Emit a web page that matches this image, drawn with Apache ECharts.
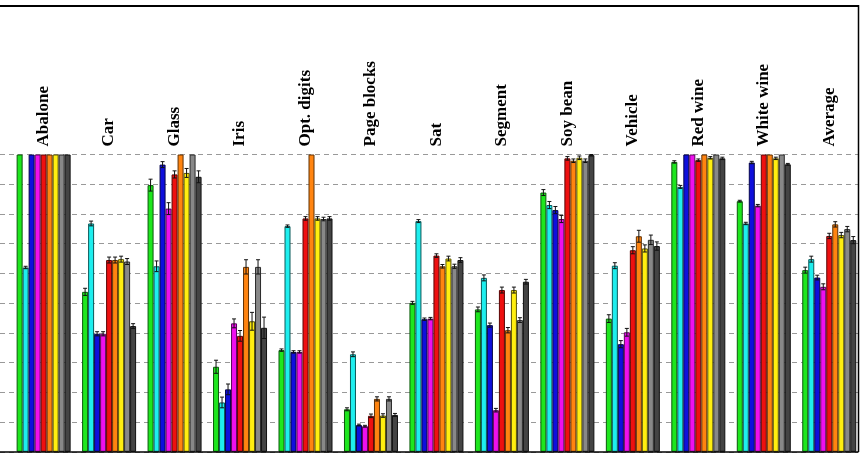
<!DOCTYPE html>
<html>
<head>
<meta charset="utf-8">
<script src="https://cdn.jsdelivr.net/npm/echarts@6/dist/echarts.min.js"></script>
<style>html,body{margin:0;padding:0;background:#fff;}#c{width:862px;height:470px;}</style>
</head>
<body>
<div id="c"></div>
<script>
const categories = ['Abalone','Car','Glass','Iris','Opt. digits','Page blocks','Sat','Segment','Soy bean','Vehicle','Red wine','White wine','Average'];
const seriesColors = ['#1ee61e','#1eeeee','#0f0fdc','#ee10ee','#ee1010','#ff8410','#ffee10','#888888','#444444'];
const borderColors = ['#0a5a0a','#0a5a5a','#05054a','#5a055a','#5a0505','#603205','#5a5505','#2a2a2a','#111111'];
// values per method (9 methods), one entry per category
const m1 = [1.0,0.538,0.897,0.286,0.342,0.143,0.501,0.479,0.872,0.448,0.975,0.843,0.611];
const m2 = [0.62,0.768,0.624,0.166,0.759,0.328,0.776,0.585,0.830,0.626,0.891,0.768,0.648];
const m3 = [1.0,0.397,0.966,0.210,0.336,0.090,0.446,0.426,0.813,0.362,1.0,0.973,0.586];
const m4 = [1.0,0.397,0.818,0.432,0.336,0.086,0.448,0.140,0.783,0.402,1.0,0.828,0.555];
const m5 = [1.0,0.645,0.933,0.390,0.785,0.121,0.660,0.544,0.987,0.678,0.981,1.0,0.726];
const m6 = [1.0,0.645,1.0,0.622,1.0,0.178,0.624,0.409,0.979,0.725,1.0,1.0,0.765];
const m7 = [1.0,0.648,0.938,0.439,0.785,0.122,0.650,0.544,0.989,0.684,0.989,0.987,0.729];
const m8 = [1.0,0.640,1.0,0.622,0.783,0.178,0.624,0.443,0.979,0.713,1.0,1.0,0.749];
const m9 = [1.0,0.423,0.925,0.417,0.785,0.124,0.645,0.572,0.998,0.692,0.987,0.967,0.712];
// error half-widths
const e1 = [0,0.012,0.02,0.022,0.004,0.005,0.005,0.008,0.01,0.013,0.004,0.003,0.01];
const e2 = [0.004,0.008,0.018,0.018,0.004,0.008,0.005,0.01,0.012,0.01,0.005,0.004,0.01];
const e3 = [0,0.007,0.01,0.018,0.004,0.003,0.004,0.007,0.012,0.012,0,0.004,0.008];
const e4 = [0,0.007,0.02,0.015,0.004,0.003,0.004,0.006,0.012,0.013,0,0.004,0.01];
const e5 = [0,0.01,0.012,0.018,0.006,0.006,0.006,0.01,0.006,0.012,0.004,0,0.009];
const e6 = [0,0.01,0,0.024,0,0.007,0.006,0.009,0.006,0.02,0,0,0.009];
const e7 = [0,0.01,0.015,0.03,0.006,0.006,0.008,0.01,0.006,0.012,0.004,0.004,0.009];
const e8 = [0,0.01,0,0.024,0.006,0.007,0.007,0.008,0.006,0.016,0,0,0.009];
const e9 = [0,0.008,0.02,0.036,0.006,0.005,0.008,0.008,0.003,0.014,0.004,0.003,0.012];

const values = [m1,m2,m3,m4,m5,m6,m7,m8,m9];
const errors = [e1,e2,e3,e4,e5,e6,e7,e8,e9];

const chart = echarts.init(document.getElementById('c'), null, {renderer:'canvas'});
const BW = 6;
const series = [];
values.forEach((vals, k) => {
  series.push({
    type:'bar', xAxisIndex:0, yAxisIndex:0,
    data: vals, barWidth: BW, barGap: '0%',
    itemStyle:{color: seriesColors[k], borderColor: borderColors[k], borderWidth: 1},
    silent:true, animation:false
  });
});
values.forEach((vals, k) => {
  series.push({
    type:'custom', xAxisIndex:0, yAxisIndex:0,
    data: vals.map((v,i)=>[i, v, errors[k][i]]),
    renderItem: function(params, api){
      const i = api.value(0), v = api.value(1), e = api.value(2);
      if (!e) return null;
      const c = api.coord([i, v]);
      const x = c[0] - 4.5*BW + (k+0.5)*BW;
      const hi = api.coord([i, Math.min(v+e, 1.0)])[1];
      const lo = api.coord([i, v-e])[1];
      const st = {stroke:'#111', lineWidth:1};
      return {type:'group', children:[
        {type:'line', shape:{x1:x, y1:hi, x2:x, y2:lo}, style:st},
        {type:'line', shape:{x1:x-2, y1:hi, x2:x+2, y2:hi}, style:st},
        {type:'line', shape:{x1:x-2, y1:lo, x2:x+2, y2:lo}, style:st}
      ]};
    },
    z: 5, silent:true, animation:false
  });
});

chart.setOption({
  animation:false,
  backgroundColor:'#fff',
  grid:[
    {left:10.9, width:852, top:154.5, bottom:18.2, containLabel:false},
    {left:0, width:858, top:154.5, bottom:18.2, containLabel:false}
  ],
  xAxis:[
    {type:'category', gridIndex:0, data:categories, position:'top',
      axisLine:{show:false}, axisTick:{show:false},
      axisLabel:{rotate:90, margin:8, fontFamily:'Liberation Serif', fontWeight:'bold', fontSize:17, color:'#000', interval:0}},
    {type:'value', gridIndex:1, min:0, max:1, show:false}
  ],
  yAxis:[
    {type:'value', gridIndex:0, min:0, max:1, show:false, splitLine:{show:false}},
    {type:'value', gridIndex:1, min:0, max:1, interval:0.1,
      axisLine:{show:false}, axisTick:{show:false}, axisLabel:{show:false},
      splitLine:{show:true, lineStyle:{type:[5,4], color:'#999', width:1}}}
  ],
  graphic:[
    {type:'line', shape:{x1:0, y1:6, x2:858.5, y2:6}, style:{stroke:'#000', lineWidth:2}, z:100},
    {type:'line', shape:{x1:858.5, y1:5, x2:858.5, y2:452}, style:{stroke:'#000', lineWidth:1.5}, z:100},
    {type:'line', shape:{x1:0, y1:452, x2:858.5, y2:452}, style:{stroke:'#000', lineWidth:1.5}, z:100}
  ],
  series: series
});
</script>
</body>
</html>
